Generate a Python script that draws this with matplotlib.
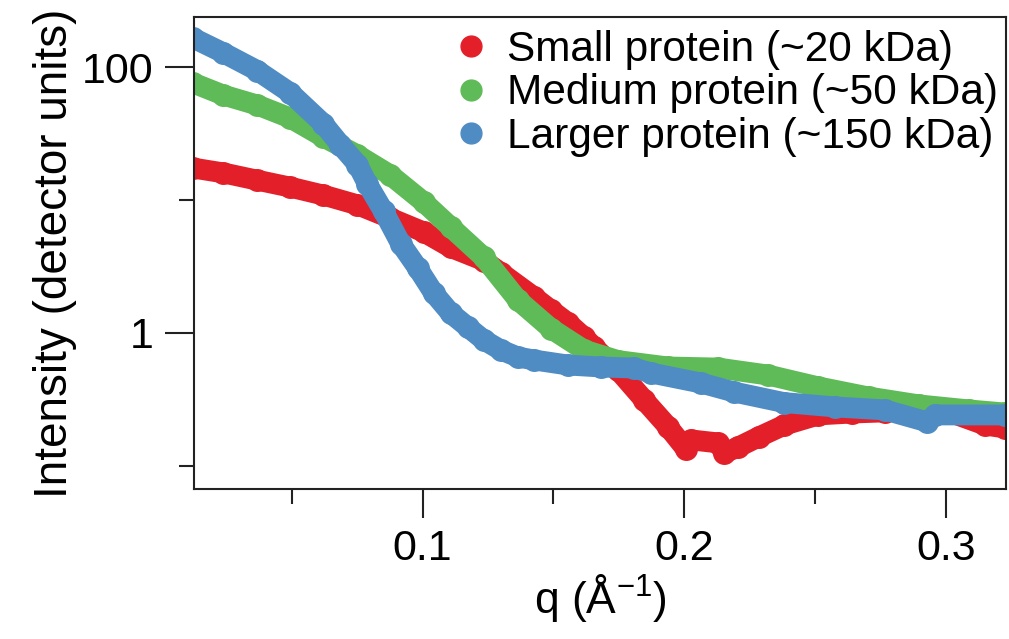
import matplotlib
matplotlib.use("Agg")
from matplotlib import pyplot as plt
from matplotlib.lines import Line2D
from matplotlib.ticker import FixedLocator, NullFormatter, FormatStrFormatter

plt.rcParams['font.family'] = ['Liberation Sans', 'DejaVu Sans']
plt.rcParams['mathtext.default'] = 'regular'

# Small protein (~20 kDa)
q_small = [0.0123, 0.0238, 0.0368, 0.0494, 0.062, 0.0751, 0.0877, 0.1004, 0.1107,
           0.1234, 0.130, 0.1425, 0.149, 0.1556, 0.1617, 0.1655, 0.1747, 0.1847,
           0.1939, 0.2005, 0.2027, 0.213, 0.2153, 0.2207, 0.2284, 0.2383, 0.2513,
           0.264, 0.2766, 0.2897, 0.3023, 0.315, 0.3226]
i_small = [17.4, 16.0, 14.1, 12.5, 10.9, 9.2, 7.3, 5.75, 4.4,
           3.5, 2.83, 1.87, 1.49, 1.19, 0.93, 0.785, 0.527, 0.313,
           0.196, 0.135, 0.157, 0.149, 0.125, 0.139, 0.165, 0.203, 0.242,
           0.25, 0.255, 0.278, 0.25, 0.203, 0.193]

# Medium protein (~50 kDa)
q_medium = [0.0123, 0.0238, 0.0368, 0.0494, 0.062, 0.0751, 0.0877, 0.1004, 0.1107,
            0.1234, 0.1364, 0.149, 0.1617, 0.1747, 0.1939, 0.213, 0.232, 0.2513,
            0.2705, 0.2897, 0.3088, 0.3226]
i_medium = [75.8, 61.6, 51.8, 41.4, 29.8, 21.8, 15.4, 9.66, 6.27,
            3.7, 1.77, 1.08, 0.745, 0.62, 0.555, 0.545, 0.483, 0.393,
            0.33, 0.288, 0.264, 0.25]

# Larger protein (~150 kDa)
q_large = [0.0123, 0.0238, 0.0368, 0.0494, 0.062, 0.0686, 0.0751, 0.0789, 0.0851,
           0.0916, 0.0981, 0.1042, 0.1107, 0.1172, 0.1234, 0.1299, 0.1364, 0.1425,
           0.1556, 0.1682, 0.1808, 0.1874, 0.2065, 0.219, 0.238, 0.2575, 0.2766,
           0.2927, 0.296, 0.3226]
i_large = [165, 128, 94, 64, 37.5, 26.0, 18.5, 13.2, 8.2,
           4.7, 3.08, 2.0, 1.41, 1.11, 0.885, 0.745, 0.66, 0.627,
           0.574, 0.555, 0.545, 0.50, 0.42, 0.36, 0.30, 0.278, 0.264,
           0.215, 0.242, 0.242]

labels = ['Small protein (~20 kDa)', 'Medium protein (~50 kDa)', 'Larger protein (~150 kDa)']
colors = ['#e3202a', '#5fba58', '#4f8cc4']

fig = plt.figure(figsize=(10.09, 6.39), dpi=100)
ax = fig.add_axes([194 / 1009, 1 - 489 / 639, (1006 - 194) / 1009, (489 - 17) / 639])

series = [(q_small, i_small), (q_medium, i_medium), (q_large, i_large)]
for (q, inten), c in zip(series, colors):
    ax.plot(q, inten, '-', color=c, lw=15, solid_capstyle='round', solid_joinstyle='round')
    ax.plot(q, inten, 'o', color=c, ms=15.5)

ax.set_yscale('log')
ax.set_xlim(0.0126, 0.323)
ax.set_ylim(0.0671, 238)

ax.yaxis.set_major_locator(FixedLocator([1, 100]))
ax.yaxis.set_minor_locator(FixedLocator([0.1, 10]))
ax.yaxis.set_major_formatter(FormatStrFormatter('%g'))
ax.yaxis.set_minor_formatter(NullFormatter())
ax.xaxis.set_major_locator(FixedLocator([0.1, 0.2, 0.3]))
ax.xaxis.set_minor_locator(FixedLocator([0.05, 0.15, 0.25]))
ax.xaxis.set_major_formatter(FormatStrFormatter('%g'))

ax.tick_params(which='major', length=21, width=1.5, labelsize=31, pad=8, color='#222222')
ax.tick_params(which='minor', length=10.5, width=1.5, color='#222222')
for s in ax.spines.values():
    s.set_linewidth(1.5)
    s.set_color('#222222')

ax.set_xlabel('q (Å$^{-1}$)', fontsize=32, labelpad=2)
ax.set_ylabel('Intensity (detector units)', fontsize=33, labelpad=4)

handles = [Line2D([], [], ls='', marker='o', ms=15, color=c) for c in colors]
ax.legend(handles, labels, loc='upper left', bbox_to_anchor=(450 / 1009, 1 - 30 / 639),
          bbox_transform=fig.transFigure, frameon=False, fontsize=30.5, borderpad=0,
          handlelength=1.0, handletextpad=0.35, labelspacing=0.08, borderaxespad=0)

plt.savefig('out.png', dpi=100)
